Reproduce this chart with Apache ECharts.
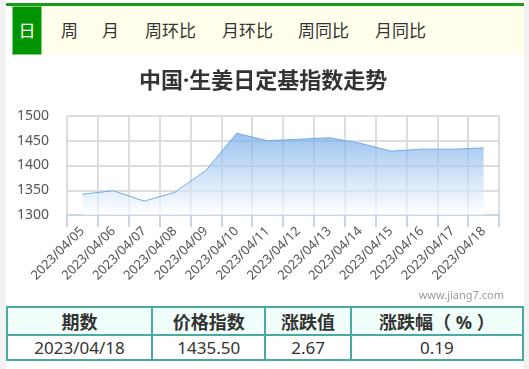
<!DOCTYPE html>
<html><head><meta charset="utf-8">
<script src="https://cdn.jsdelivr.net/npm/echarts@6/dist/echarts.min.js"></script>
<style>
html,body{margin:0;padding:0;width:529px;height:369px;overflow:hidden;background:#f2f2f2;font-family:"Noto Sans","Noto Sans CJK SC",sans-serif;}
#page{position:absolute;left:6px;top:0;width:518px;height:369px;background:#fff;}
#topline{position:absolute;left:6px;top:3px;width:518px;height:3px;background:#1a9a1a;}
#tabs{position:absolute;left:12px;top:6px;width:512px;height:49px;background:#ffffec;}
.tab{position:absolute;top:0;height:49px;line-height:49px;font-size:17px;color:#333;}
#tab0{left:0;width:28px;background:#009400;border:1px solid #7fd07f;height:47px;line-height:47px;color:#fff;text-align:center;}
#chart{position:absolute;left:0;top:55px;width:529px;height:250px;}
#tbl{position:absolute;left:6px;top:306px;width:518px;border-collapse:collapse;font-size:17px;color:#333;}
#tbl td{border:2px solid #4aa9a2;text-align:center;padding:0;}
#tbl tr.h td{background:#f0fffa;font-weight:bold;font-size:18px;height:25px;}
#tbl tr.d td{height:23px;}
</style></head>
<body>
<div id="page"></div>
<div id="topline"></div>
<div id="tabs"></div>
<div id="chart"></div>
<table id="tbl"></table>
<script>
var tabNames = ['日','周','月','周环比','月环比','周同比','月同比'];
var tabX = [0, 49, 90, 133, 210, 286, 363];
var categories = ['2023/04/05','2023/04/06','2023/04/07','2023/04/08','2023/04/09','2023/04/10','2023/04/11','2023/04/12','2023/04/13','2023/04/14','2023/04/15','2023/04/16','2023/04/17','2023/04/18'];
var values = [1342, 1349, 1328, 1346, 1390, 1465, 1450, 1453, 1456, 1445, 1429, 1433, 1432.83, 1435.50];
var yTicks = [1300, 1350, 1400, 1450, 1500];
var tableHeader = ['期数','价格指数','涨跌值','涨跌幅（ % ）'];
var tableRow = ['2023/04/18','1435.50','2.67','0.19'];
var colWidths = [145, 113, 85, 175];

var tabs = document.getElementById('tabs');
tabNames.forEach(function(n,i){
  var d=document.createElement('div');d.className='tab';d.textContent=n;
  if(i===0){d.id='tab0';}else{d.style.left=tabX[i]+'px';}
  tabs.appendChild(d);
});
var tbl=document.getElementById('tbl');
var h=tbl.insertRow();h.className='h';
tableHeader.forEach(function(t,i){var c=h.insertCell();c.textContent=t;c.style.width=colWidths[i]+'px';});
var r=tbl.insertRow();r.className='d';
tableRow.forEach(function(t){var c=r.insertCell();c.textContent=t;});

var chart = echarts.init(document.getElementById('chart'));
chart.setOption({
  animation:false,
  title:{text:'中国·生姜日定基指数走势',left:134,top:11,
    textStyle:{fontSize:22,fontWeight:'bold',color:'#333',fontFamily:'"Noto Sans","Noto Sans CJK SC",sans-serif'}},
  graphic:[{type:'text',right:25,top:235,style:{text:'www.jiang7.com',fill:'#999',fontSize:11,fontFamily:'"Noto Sans",sans-serif'}}],
  grid:{left:67,right:30,top:61,bottom:90},
  xAxis:{type:'category',data:categories,boundaryGap:true,
    axisLine:{lineStyle:{color:'#c8d6e6',width:2}},
    axisTick:{show:true,interval:0,length:12,lineStyle:{color:'#c8d6e6',width:2}},
    splitLine:{show:true,interval:0,lineStyle:{color:'#dddddd',width:2}},
    axisLabel:{interval:0,rotate:45,fontSize:13,color:'#555',margin:14,fontFamily:'"Noto Sans",sans-serif'}},
  yAxis:{type:'value',min:yTicks[0],max:yTicks[yTicks.length-1],interval:50,
    axisLine:{show:false},axisTick:{show:false},
    splitLine:{lineStyle:{color:'#dddddd',width:2}},
    axisLabel:{fontSize:14,color:'#555',margin:18,formatter:function(v){return String(v);},fontFamily:'"Noto Sans",sans-serif'}},
  series:[{type:'line',data:values,symbol:'none',smooth:false,
    lineStyle:{color:'#70aae8',width:1},
    areaStyle:{color:new echarts.graphic.LinearGradient(0,0,0,1,[{offset:0,color:'#6ea8e8'},{offset:1,color:'rgba(255,255,255,0.9)'}])}}]
});
</script>
</body></html>
